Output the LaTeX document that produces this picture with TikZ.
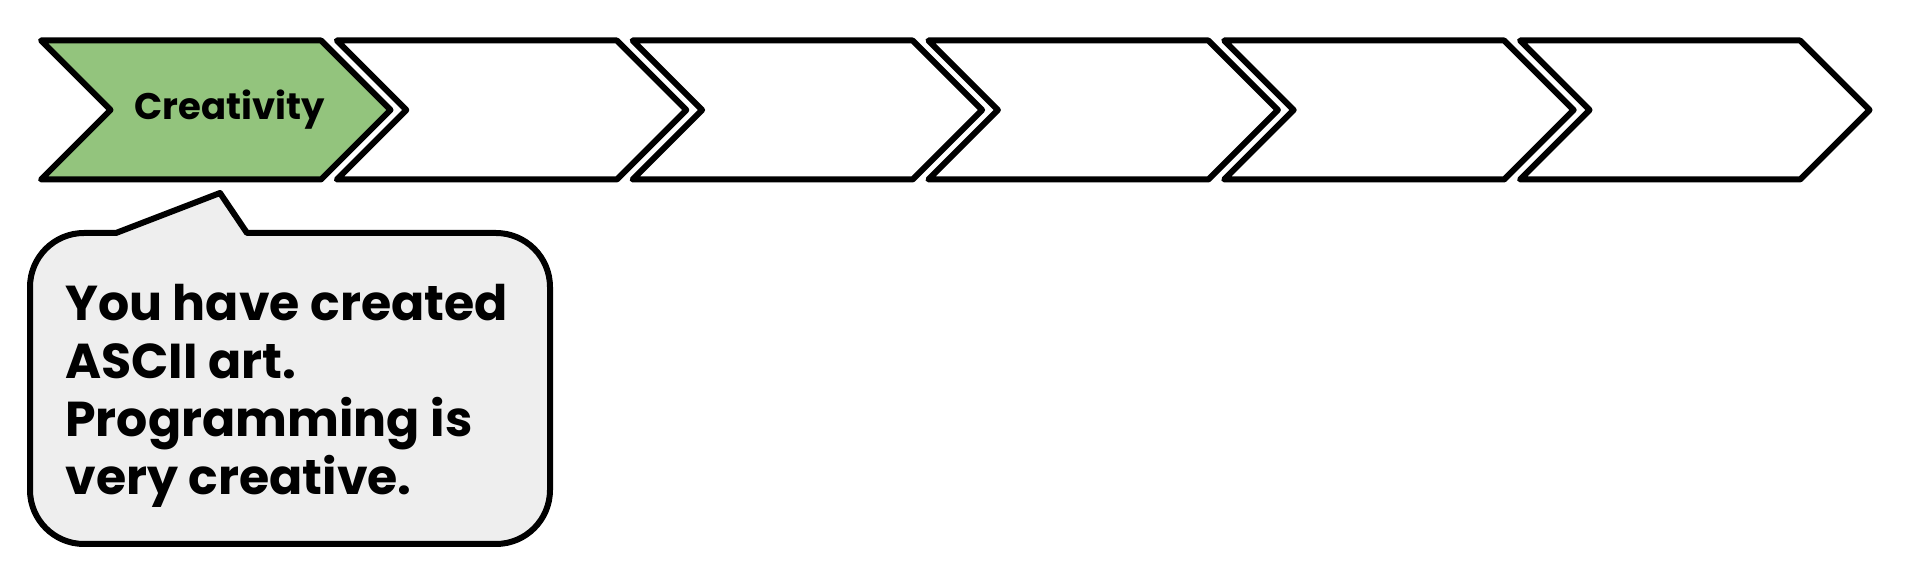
\documentclass[tikz,border=0pt]{standalone}
\usepackage{fontspec}
\setmainfont{Poppins}
\definecolor{chevgreen}{HTML}{93C47D}
\definecolor{callgray}{HTML}{EEEEEE}
\begin{document}
\begin{tikzpicture}[x=0.5pt,y=0.5pt,
  chev/.style={draw=black,line width=3pt,line join=round,fill=white},
  callout/.style={draw=black,line width=3pt,line join=round,fill=callgray},
  chevtext/.style={font=\fontsize{18.5pt}{22pt}\selectfont\bfseries,inner sep=0pt},
  calltext/.style={font=\fontsize{24.5pt}{29.1pt}\selectfont\bfseries,inner sep=0pt,align=left}]
\useasboundingbox (0,0) rectangle (1918,578);
% chevrons
\foreach \i in {0,...,5}{
  \pgfmathsetmacro{\L}{41+295.8*\i}
  \ifnum\i=0 \def\fc{chevgreen}\else\def\fc{white}\fi
  \draw[chev,fill=\fc] (\L,537.5) coordinate (c\i-tl) -- ++(280,0) coordinate (c\i-tr)
     -- ++(69.5,-69.5) coordinate (c\i-tip) -- ++(-69.5,-69.5) coordinate (c\i-br)
     -- ++(-280,0) coordinate (c\i-bl) -- ++(69.5,69.5) coordinate (c\i-notch) -- cycle;
}
\node[chevtext,anchor=base west] (creat) at (134,458) {Creativity};
% callout
\coordinate (pl) at (116,345);
\coordinate (pa) at (220,385);
\coordinate (pr) at (247,345);
\draw[callout] (pl) -- (pa) -- (pr) -- (496,345) arc[start angle=90,end angle=0,radius=27pt]
  -- (550,88) arc[start angle=0,end angle=-90,radius=27pt]
  -- (84,34) arc[start angle=270,end angle=180,radius=27pt]
  -- (30,291) arc[start angle=180,end angle=90,radius=27pt] -- cycle;
\node[calltext,anchor=base west] (note) at (65,83) {You have created\\ASCII art.\\Programming is\\very creative.};
\end{tikzpicture}
\end{document}
